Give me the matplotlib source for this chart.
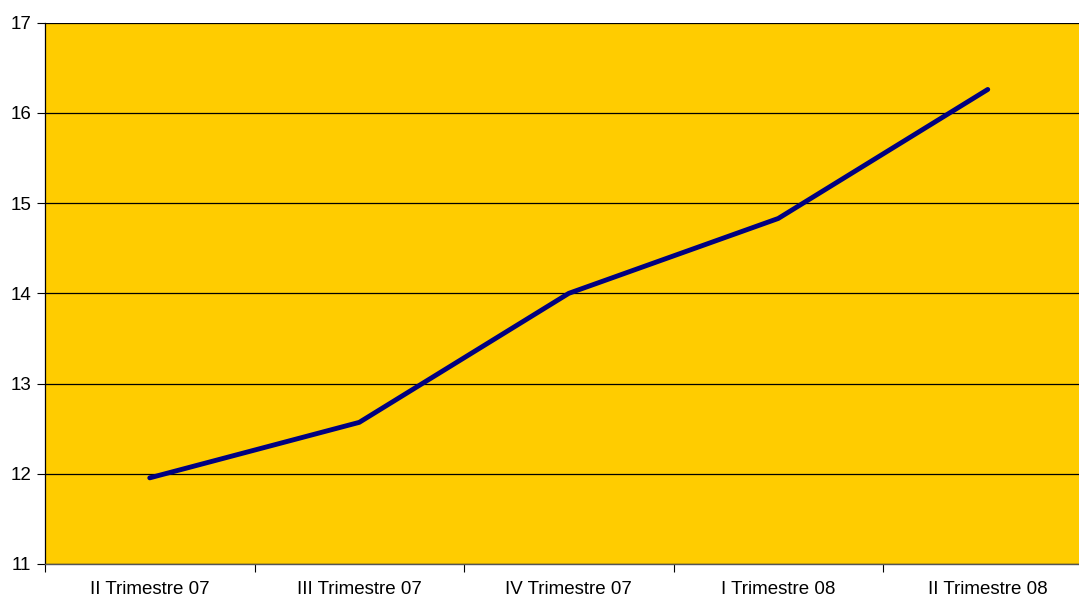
import matplotlib
matplotlib.use("Agg")
import matplotlib.pyplot as plt

plt.rcParams['font.family'] = ['Liberation Sans', 'DejaVu Sans']

categories = ['II Trimestre 07', 'III Trimestre 07', 'IV Trimestre 07',
              'I Trimestre 08', 'II Trimestre 08']
values = [11.955, 12.57, 14.0, 14.83, 16.26]
y_ticks = [11, 12, 13, 14, 15, 16, 17]

fig = plt.figure(figsize=(10.79, 5.98), dpi=100)
# plot area runs slightly past the right edge of the image, as in the original
ax = fig.add_axes([45 / 1079, 34 / 598, 1047.5 / 1079, 541.3 / 598])
ax.set_facecolor('#FFCC00')

x = list(range(len(categories)))
ax.plot(x, values, color='#000080', linewidth=3.5, solid_capstyle='round', zorder=3)

ax.set_xlim(-0.5, len(categories) - 0.5)
ax.set_ylim(11, 17)
ax.set_yticks(y_ticks)
ax.set_yticklabels([str(v) for v in y_ticks])
ax.yaxis.grid(True, color='black', linewidth=0.9)
ax.set_axisbelow(True)

# category labels centred, tick marks between categories
ax.set_xticks(x)
ax.set_xticklabels(categories)
ax.set_xticks([i - 0.5 for i in range(len(categories) + 1)], minor=True)
ax.tick_params(axis='x', which='major', length=0, pad=12.5, labelsize=13.5)
ax.tick_params(axis='x', which='minor', length=6, width=0.8, direction='out')
ax.tick_params(axis='y', length=6, width=0.8, pad=4, labelsize=13.5)

for side in ['top', 'right']:
    ax.spines[side].set_visible(False)
ax.spines['left'].set_color('black')
ax.spines['left'].set_linewidth(0.9)
ax.spines['bottom'].set_color('#555555')
ax.spines['bottom'].set_linewidth(1.0)

fig.savefig('out.png', dpi=100, facecolor='white')
